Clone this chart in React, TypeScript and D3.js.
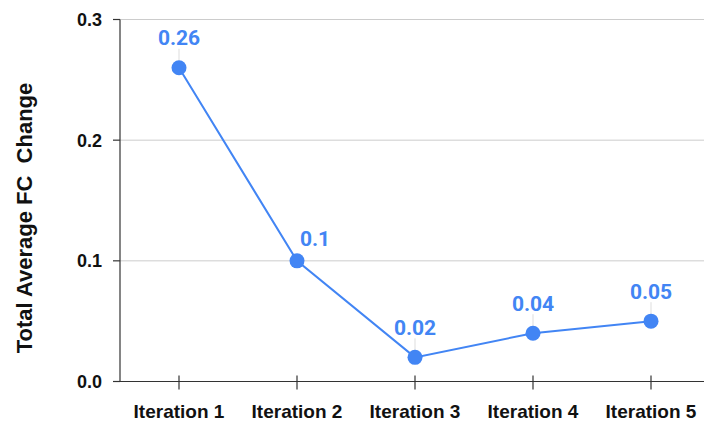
import React from "react";
import * as d3 from "d3";

const categories = ["Iteration 1", "Iteration 2", "Iteration 3", "Iteration 4", "Iteration 5"];
const values = [0.26, 0.1, 0.02, 0.04, 0.05];
const labels = ["0.26", "0.1", "0.02", "0.04", "0.05"];
const labelDx = [0, 18, 0, 0, 0];
const labelDy = [-22.5, -14.5, -22.5, -22.5, -22.5];
const yTicks = [0, 0.1, 0.2, 0.3];
const yTickLabels = ["0.0", "0.1", "0.2", "0.3"];

const W = 704, H = 422;
const left = 120, right = 710, top = 19.5, bottom = 381.5;
const blue = "#4285F4";

export default function App() {
  const x = d3.scaleBand<string>().domain(categories).range([left, right]).padding(0);
  const y = d3.scaleLinear().domain([0, 0.3]).range([bottom, top]);
  const cx = (c: string) => (x(c) as number) + x.bandwidth() / 2;
  const line = d3.line<number>().x((_, i) => cx(categories[i])).y((d) => y(d));
  const axisFont = "'Liberation Sans', Arial, sans-serif";
  return (
    <svg width={W} height={H} style={{ position: "absolute", left: 0, top: 0, background: "#fff" }}>
      {yTicks.filter((t) => t > 0).map((t) => (
        <line key={t} x1={left} x2={W} y1={y(t)} y2={y(t)} stroke="#cccccc" strokeWidth={1} />
      ))}
      <line x1={left} x2={left} y1={top} y2={bottom} stroke="#333" strokeWidth={1.2} />
      <line x1={left} x2={W} y1={bottom} y2={bottom} stroke="#333" strokeWidth={1.2} />
      {yTicks.map((t, i) => (
        <g key={t}>
          <line x1={left - 7} x2={left} y1={y(t)} y2={y(t)} stroke="#333" strokeWidth={1.2} />
          <text x={left - 18} y={y(t) + 6.5} textAnchor="end" fontFamily={axisFont} fontWeight="bold" fontSize={18} fill="#111">
            {yTickLabels[i]}
          </text>
        </g>
      ))}
      {categories.map((c) => (
        <g key={c}>
          <line x1={cx(c)} x2={cx(c)} y1={bottom - 6} y2={bottom + 8} stroke="#333" strokeWidth={1.2} />
          <text x={cx(c)} y={bottom + 36} textAnchor="middle" fontFamily={axisFont} fontWeight="bold" fontSize={19} fill="#111">
            {c}
          </text>
        </g>
      ))}
      <text
        transform={`translate(32,218) rotate(-90)`}
        textAnchor="middle"
        fontFamily={axisFont}
        fontWeight="bold"
        fontSize={22}
        fill="#111"
        style={{ whiteSpace: "pre" }}
      >
        {"Total Average FC  Change"}
      </text>
      <path d={line(values) || ""} fill="none" stroke={blue} strokeWidth={2} />
      {values.map((v, i) => (
        <g key={i}>
          {labelDx[i] === 0 && (
            <line x1={cx(categories[i])} x2={cx(categories[i])} y1={y(v) - 19} y2={y(v) - 7} stroke="#dddddd" strokeWidth={1} />
          )}
          <circle cx={cx(categories[i])} cy={y(v)} r={7.5} fill={blue} />
          <text x={cx(categories[i]) + labelDx[i]} y={y(v) + labelDy[i]} textAnchor="middle" fontFamily="Roboto, sans-serif" fontWeight="bold" fontSize={21} fill={blue}>
            {labels[i]}
          </text>
        </g>
      ))}
    </svg>
  );
}
